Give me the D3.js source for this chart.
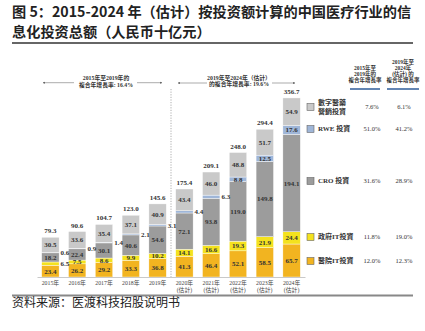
<!DOCTYPE html>
<html><head><meta charset="utf-8">
<script src="https://cdn.jsdelivr.net/npm/d3@7/dist/d3.min.js"></script>
<style>body{margin:0;background:#fff;}svg{display:block;}</style>
</head><body>
<svg id="c" width="425" height="331"></svg>
<script>
const years = ["2015","2016","2017","2018","2019","2020","2021","2022","2023","2024"];
const estimated = [false,false,false,false,false,true,true,true,true,true];
const hospitalIT = [23.4,26.2,29.2,33.3,36.8,41.3,46.4,52.1,58.5,65.7];
const govIT = [6.5,7.5,8.6,9.9,10.2,14.1,16.6,19.3,21.9,24.4];
const cro = [18.2,22.4,30.1,40.6,54.6,72.1,93.8,119.0,149.8,194.1];
const rwe = [0.6,0.9,1.4,2.1,3.1,4.4,6.3,8.8,12.5,17.6];
const digital = [30.5,33.6,35.4,37.1,40.9,43.4,46.0,48.8,51.7,54.9];
const totals = [79.3,90.6,104.7,123.0,145.6,175.4,209.1,248.0,294.4,356.7];
const seriesKeys = ["hospitalIT","govIT","cro","rwe","digital"];
const seriesNames = ["醫院IT投資","政府IT投資","CRO 投資","RWE 投資","數字醫藥\n營銷投資"];
const cagr1519 = ["12.0%","11.8%","31.6%","51.0%","7.6%"];
const cagr1924 = ["12.3%","19.0%","28.9%","41.2%","6.1%"];
const colors = ["#F2B420","#F4E21E","#9C9C9C","#9FB6D8","#C9C9C9"];

const svg = d3.select("#c");
const serif = "'Liberation Serif','Noto Sans CJK TC',serif";
const cjk = "'Noto Sans CJK SC',sans-serif";

// Title
svg.append("text").attr("x",12).attr("y",17).attr("font-family",cjk).attr("font-weight","bold")
  .attr("font-size",14.2).attr("fill","#222").text("图 5：2015-2024 年（估计）按投资额计算的中国医疗行业的信");
svg.append("text").attr("x",12).attr("y",36.5).attr("font-family",cjk).attr("font-weight","bold")
  .attr("font-size",14.2).attr("fill","#222").text("息化投资总额（人民币十亿元）");
svg.append("line").attr("x1",12).attr("x2",413).attr("y1",43).attr("y2",43).attr("stroke","#333").attr("stroke-width",1.3);

// Data table
const table = years.map((y,i)=>({year:y, hospitalIT:hospitalIT[i], govIT:govIT[i], cro:cro[i], rwe:rwe[i], digital:digital[i]}));
const stack = d3.stack().keys(seriesKeys)(table);

const x = d3.scaleBand().domain(years).range([37,305]).paddingInner(0.35).paddingOuter(0.175);
const y = d3.scaleLinear().domain([0,400]).range([277,76.2]);

const g = svg.append("g");
stack.forEach((s,si)=>{
  g.selectAll(null).data(s).enter().append("rect")
    .attr("x",d=>x(d.data.year)).attr("width",x.bandwidth())
    .attr("y",d=>y(d[1])).attr("height",d=>Math.max(0,y(d[0])-y(d[1])))
    .attr("fill",colors[si]).attr("stroke","#fff").attr("stroke-width",0.4);
});

// segment labels
stack.forEach((s,si)=>{
  s.forEach((d,i)=>{
    const val = d[1]-d[0];
    const h = y(d[0])-y(d[1]);
    let lx = x(d.data.year)+x.bandwidth()/2, anchor="middle";
    const ly = (y(d[0])+y(d[1]))/2;
    let outside = h < 3.5;
    if (outside) { lx = x(d.data.year)+x.bandwidth()+1.5; anchor="start"; }
    svg.append("text").attr("x",lx).attr("y",ly).attr("dy","0.35em")
      .attr("text-anchor",anchor).attr("font-family",serif).attr("font-weight","bold")
      .attr("font-size",7).attr("fill","#333").text(val.toFixed(1));
  });
});
// totals
svg.selectAll(null).data(table).enter().append("text")
  .attr("x",d=>x(d.year)+x.bandwidth()/2).attr("y",(d,i)=>y(totals[i])-4)
  .attr("text-anchor","middle").attr("font-family",serif).attr("font-weight","bold")
  .attr("font-size",7).attr("fill","#333").text((d,i)=>totals[i].toFixed(1));

// axis
const ax = svg.append("g").attr("transform","translate(0,277)")
  .call(d3.axisBottom(x).tickSize(0).tickFormat(""));
ax.select(".domain").attr("stroke","#bbb").attr("stroke-width",0.8);
years.forEach((yr,i)=>{
  const cx = x(yr)+x.bandwidth()/2;
  svg.append("text").attr("x",cx).attr("y",285).attr("text-anchor","middle")
    .attr("font-family",serif).attr("font-size",5.8).attr("fill","#444").text(yr+"年");
  if (estimated[i]) svg.append("text").attr("x",cx).attr("y",292).attr("text-anchor","middle")
    .attr("font-family",serif).attr("font-size",5.8).attr("fill","#444").text("(估計)");
});

// dashed divider
svg.append("line").attr("x1",171).attr("x2",171).attr("y1",89).attr("y2",277)
  .attr("stroke","#999").attr("stroke-width",0.8).attr("stroke-dasharray","1.2,1.4");

// arrows
const defs = svg.append("defs");
defs.append("marker").attr("id","ah").attr("viewBox","0 0 6 6").attr("refX",5).attr("refY",3)
  .attr("markerWidth",4).attr("markerHeight",4).attr("orient","auto-start-reverse")
  .append("path").attr("d","M0,0.5L6,3L0,5.5Z").attr("fill","#666");
function arrow(x1,x2,yy){
  svg.append("line").attr("x1",x1).attr("x2",x2).attr("y1",yy).attr("y2",yy)
    .attr("stroke","#888").attr("stroke-width",0.7).attr("marker-end","url(#ah)");
}
arrow(74,43,82.7); arrow(137,162,82.7);
arrow(207,178,83); arrow(272,295,83);
function ann(cx,lines,y0){
  lines.forEach((t,i)=>svg.append("text").attr("x",cx).attr("y",y0+i*6.5).attr("text-anchor","middle")
    .attr("font-family",serif).attr("font-weight","bold").attr("font-size",5.8).attr("fill","#333").text(t));
}
ann(106,["2015年至2019年的","複合年增長率: 16.4%"],80);
ann(239,["2019年至2024年（估計）","的複合年增長率: 19.6%"],79.5);

// legend table headers
function header(cx,lines,yLast){
  lines.forEach((t,i)=>svg.append("text").attr("x",cx).attr("y",yLast-(lines.length-1-i)*6)
    .attr("text-anchor","middle").attr("font-family",serif).attr("font-weight","bold")
    .attr("font-size",5.5).attr("fill","#333").text(t));
}
header(365,["2015年至","2019年的","複合年增長率"],82);
header(403,["2019年至","2024年","(估計) 的","複合年增長率"],82);
svg.append("line").attr("x1",350).attr("x2",380).attr("y1",89).attr("y2",89).attr("stroke","#2E5C9A").attr("stroke-width",1.5);
svg.append("line").attr("x1",387).attr("x2",419).attr("y1",89).attr("y2",89).attr("stroke","#2E5C9A").attr("stroke-width",1.5);

const legendY = [261,237,181,129,107];
seriesKeys.forEach((k,i)=>{
  const ly = legendY[i];
  svg.append("rect").attr("x",307).attr("y",ly-3.5).attr("width",7).attr("height",7)
    .attr("fill",colors[i]).attr("stroke","#666").attr("stroke-width",0.6);
  const parts = seriesNames[i].split("\n");
  parts.forEach((p,j)=>{
    svg.append("text").attr("x",318).attr("y",ly+(j-(parts.length-1)/2)*8.5).attr("dy","0.35em")
      .attr("font-family",serif).attr("font-weight","bold").attr("font-size",7).attr("fill","#333").text(p);
  });
  svg.append("text").attr("x",372).attr("y",ly).attr("dy","0.35em").attr("text-anchor","middle")
    .attr("font-family",serif).attr("font-size",6.5).attr("fill","#333").text(cagr1519[i]);
  svg.append("text").attr("x",404).attr("y",ly).attr("dy","0.35em").attr("text-anchor","middle")
    .attr("font-family",serif).attr("font-size",6.5).attr("fill","#333").text(cagr1924[i]);
});

// bottom rule and source
svg.append("line").attr("x1",12).attr("x2",413).attr("y1",295.5).attr("y2",295.5).attr("stroke","#888").attr("stroke-width",1.8);
svg.append("text").attr("x",12).attr("y",307).attr("font-family",cjk).attr("font-size",12).attr("fill","#222").text("资料来源：医渡科技招股说明书");
</script>
</body></html>
